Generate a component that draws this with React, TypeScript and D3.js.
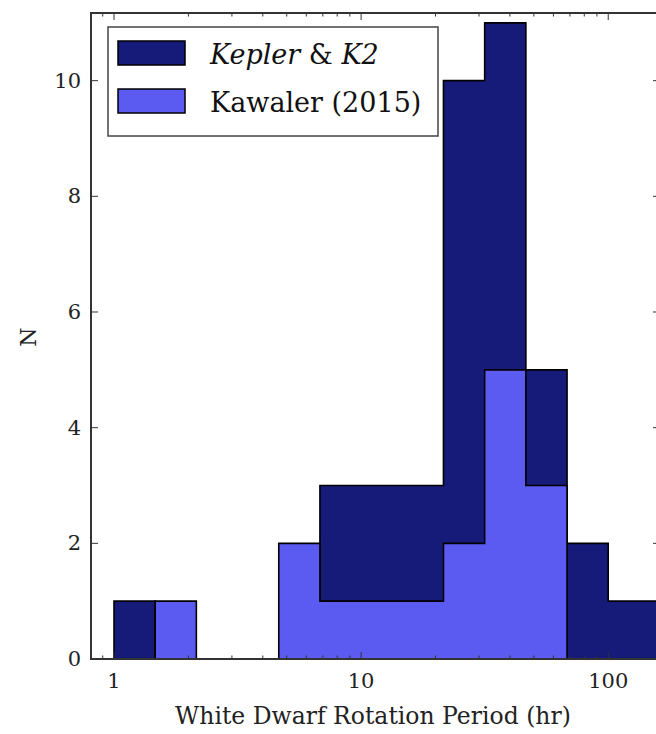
import React from "react";
import * as d3 from "d3";

const binEdges = [1, 1.468, 2.154, 3.162, 4.642, 6.813, 10, 14.68, 21.54, 31.62, 46.42, 68.13, 100, 180];
const keplerCounts = [1, 0, 0, 0, 0, 3, 3, 3, 10, 11, 5, 2, 1];
const kawalerCounts = [0, 1, 0, 0, 2, 1, 1, 1, 2, 5, 3, 0, 0];
const yTicks = [0, 2, 4, 6, 8, 10];
const xTickLabels = [1, 10, 100];

const W = 656;
const H = 734;
const left = 91;
const right = 660;
const top = 13;
const bottom = 659;

const DARK = "#161a78";
const LIGHT = "#5b5bf2";
const FONT = "DejaVu Serif, Liberation Serif, serif";

export default function App() {
  const x = d3.scaleLog().domain([0.807, 162]).range([left, right]);
  const y = d3.scaleLinear().domain([0, 11.17]).range([bottom, top]);

  const stepPath = (counts: number[]) => {
    const pts: [number, number][] = [];
    pts.push([binEdges[0], 0]);
    counts.forEach((c, i) => {
      pts.push([binEdges[i], c]);
      pts.push([binEdges[i + 1], c]);
    });
    pts.push([binEdges[binEdges.length - 1], 0]);
    const line = d3
      .line<[number, number]>()
      .x((d) => x(d[0]))
      .y((d) => y(d[1]));
    return line(pts) + "Z";
  };

  const majorX = xTickLabels;
  const minorX: number[] = [];
  [0.1, 1, 10, 100].forEach((dec) => {
    for (let k = 2; k <= 9; k++) {
      const v = dec * k;
      if (v >= 0.807 && v <= 162) minorX.push(v);
    }
  });

  const majLen = 7;
  const minLen = 3.5;
  const axisColor = "#333";

  return (
    <svg width={W} height={H} style={{ position: "absolute", left: 0, top: 0, background: "#fff" }}>
      <defs>
        <clipPath id="plotclip">
          <rect x={left} y={top} width={right - left} height={bottom - top} />
        </clipPath>
      </defs>
      <rect x={0} y={0} width={W} height={H} fill="#fff" />
      <g clipPath="url(#plotclip)">
        <path d={stepPath(keplerCounts)} fill={DARK} stroke="#000" strokeWidth={1.6} strokeLinejoin="miter" />
        <path d={stepPath(kawalerCounts)} fill={LIGHT} stroke="#000" strokeWidth={1.6} strokeLinejoin="miter" />
      </g>

      {/* ticks */}
      <g stroke={axisColor} strokeWidth={1}>
        {majorX.map((v) => (
          <g key={"mx" + v}>
            <line x1={x(v)} x2={x(v)} y1={bottom} y2={bottom - majLen} />
            <line x1={x(v)} x2={x(v)} y1={top} y2={top + majLen} />
          </g>
        ))}
        {minorX.map((v) => (
          <g key={"nx" + v}>
            <line x1={x(v)} x2={x(v)} y1={bottom} y2={bottom - minLen} />
            <line x1={x(v)} x2={x(v)} y1={top} y2={top + minLen} />
          </g>
        ))}
        {yTicks.map((v) => (
          <g key={"y" + v}>
            <line x1={left} x2={left + majLen} y1={y(v)} y2={y(v)} />
            <line x1={right} x2={right - majLen} y1={y(v)} y2={y(v)} />
          </g>
        ))}
      </g>

      {/* spines */}
      <rect x={left} y={top} width={right - left} height={bottom - top} fill="none" stroke={axisColor} strokeWidth={2} />

      {/* tick labels */}
      <g fontFamily={FONT} fontSize={21} fill="#222">
        {yTicks.map((v) => (
          <text key={"yl" + v} x={left - 10} y={y(v)} textAnchor="end" dominantBaseline="central">
            {v}
          </text>
        ))}
        {xTickLabels.map((v) => (
          <text key={"xl" + v} x={x(v)} y={bottom + 22} textAnchor="middle" dominantBaseline="central">
            {v}
          </text>
        ))}
      </g>

      {/* axis labels */}
      <text x={373} y={716} textAnchor="middle" dominantBaseline="central" fontFamily={FONT} fontSize={23.5} fill="#222">
        White Dwarf Rotation Period (hr)
      </text>
      <text
        transform={`translate(28,337) rotate(-90)`}
        textAnchor="middle"
        dominantBaseline="central"
        fontFamily={FONT}
        fontSize={22}
        fill="#222"
      >
        N
      </text>

      {/* legend */}
      <g>
        <rect x={108} y={27} width={330} height={109} fill="#fff" stroke="#444" strokeWidth={1.5} />
        <rect x={118} y={41} width={67} height={24} fill={DARK} stroke="#000" strokeWidth={1.5} />
        <rect x={118} y={89} width={67} height={24} fill={LIGHT} stroke="#000" strokeWidth={1.5} />
        <text x={210} y={54} dominantBaseline="central" fontFamily={FONT} fontSize={27} fill="#111">
          <tspan fontStyle="italic">Kepler</tspan>
          <tspan> &amp; </tspan>
          <tspan fontStyle="italic">K2</tspan>
        </text>
        <text x={210} y={102} dominantBaseline="central" fontFamily={FONT} fontSize={27} fill="#111">
          Kawaler (2015)
        </text>
      </g>
    </svg>
  );
}
